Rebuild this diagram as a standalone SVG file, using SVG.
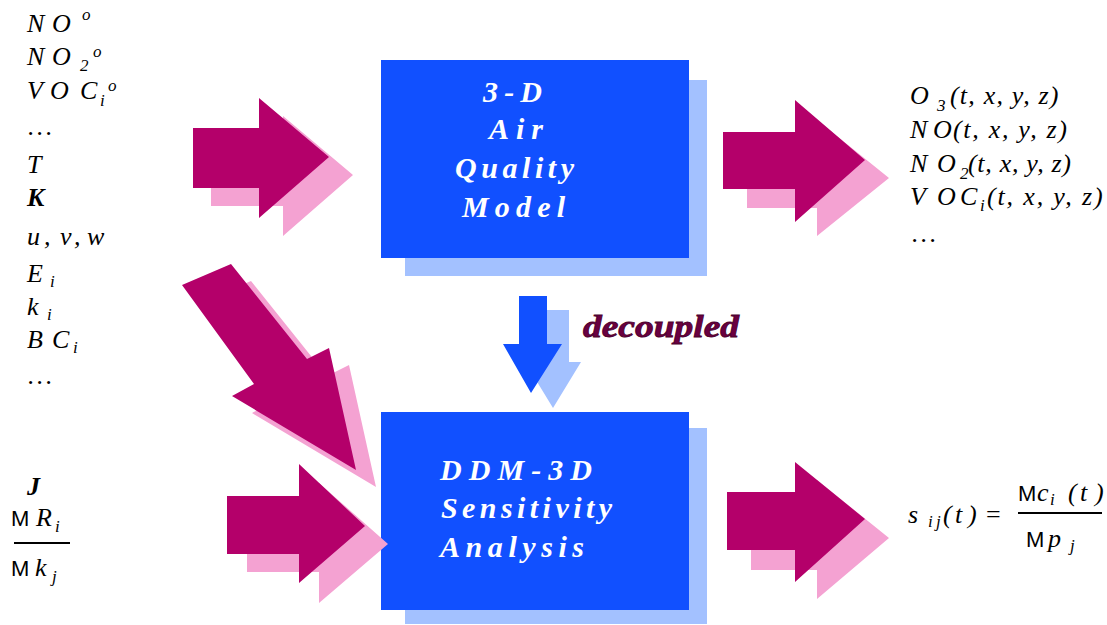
<svg xmlns="http://www.w3.org/2000/svg" width="1107" height="625" viewBox="0 0 1107 625">
<style>
.m{font-family:'Liberation Serif','Times New Roman',serif;font-style:italic;font-size:26px;fill:#000}
.b{font-weight:bold}
.s{font-size:17px}
.sans{font-family:'Liberation Sans',Arial,sans-serif;font-style:normal;font-size:22px}
.bt{font-family:'Liberation Serif','Times New Roman',serif;font-style:italic;font-weight:bold;font-size:30px;fill:#fff}
.main{fill:#1150FF}
.shadow{fill:#A3C1FF}
.arr{fill:#B4006A}
.arrs{fill:#F4A2D2}
.frac{stroke:#000;stroke-width:2}
</style>
<rect width="1107" height="625" fill="#fff"/>
<g id="node-aqm">
<rect class="shadow" x="405" y="80" width="302" height="196"/>
<rect class="main" x="381" y="60" width="308" height="198"/>
<text class="bt"><tspan x="483" y="102" textLength="59" lengthAdjust="spacing">3-D</tspan><tspan x="489" y="139" textLength="54" lengthAdjust="spacing">Air</tspan><tspan x="455" y="178" textLength="119" lengthAdjust="spacing">Quality</tspan><tspan x="462" y="217" textLength="103" lengthAdjust="spacing">Model</tspan></text>
</g>
<g id="node-ddm">
<rect class="shadow" x="405" y="428" width="302" height="196"/>
<rect class="main" x="381" y="412" width="308" height="198"/>
<text class="bt"><tspan x="440" y="480" textLength="152" lengthAdjust="spacing">DDM-3D</tspan><tspan x="441" y="518" textLength="171" lengthAdjust="spacing">Sensitivity</tspan><tspan x="440" y="557" textLength="144" lengthAdjust="spacing">Analysis</tspan></text>
</g>
<g id="node-inputs">
<text class="m"><tspan x="27 52" y="32">NO</tspan><tspan class="s" x="82" y="20">o</tspan></text>
<text class="m"><tspan x="27 52" y="65">NO</tspan><tspan class="s" x="80" y="71">2</tspan><tspan class="s" x="93" y="57">o</tspan></text>
<text class="m"><tspan x="27 50 80" y="99">VOC</tspan><tspan class="s" x="100" y="106">i</tspan><tspan class="s" x="108" y="91">o</tspan></text>
<text class="m" x="28 37 46" y="135">...</text>
<text class="m" x="27" y="173">T</text>
<text class="m b" x="27" y="206">K</text>
<text class="m" x="27 44 60 74 87" y="245">u,v,w</text>
<text class="m"><tspan x="27" y="282">E</tspan><tspan class="s" x="50" y="287">i</tspan></text>
<text class="m"><tspan x="27" y="315">k</tspan><tspan class="s" x="47" y="320">i</tspan></text>
<text class="m"><tspan x="27 52" y="348">BC</tspan><tspan class="s" x="73" y="353">i</tspan></text>
<text class="m" x="28 37 46" y="384">...</text>
</g>
<g id="node-params">
<text class="m b" x="27" y="495">J</text>
<text class="m"><tspan class="sans" x="11" y="526">M</tspan><tspan x="36" y="526">R</tspan><tspan class="s" x="55" y="532">i</tspan></text>
<line class="frac" x1="14" y1="543" x2="70" y2="543"/>
<text class="m"><tspan class="sans" x="11" y="576">M</tspan><tspan x="35" y="576">k</tspan><tspan class="s" x="52" y="582">j</tspan></text>
</g>
<g id="node-outputs">
<text class="m"><tspan x="910" y="104">O</tspan><tspan class="s" x="937" y="111">3</tspan><tspan x="950" y="104" letter-spacing="1.2">(t, x, y, z)</tspan></text>
<text class="m"><tspan x="910 933" y="138">NO</tspan><tspan x="953" y="138" letter-spacing="1.7">(t, x, y, z)</tspan></text>
<text class="m"><tspan x="910 937" y="172">NO</tspan><tspan class="s" x="960" y="179">2</tspan><tspan x="968" y="172" letter-spacing="0.7">(t, x, y, z)</tspan></text>
<text class="m"><tspan x="910 937 960" y="205">VOC</tspan><tspan class="s" x="980" y="211">i</tspan><tspan x="987" y="205" letter-spacing="1.85">(t, x, y, z)</tspan></text>
<text class="m" x="912 921 930" y="242">...</text>
</g>
<g id="node-sensitivity">
<text class="m"><tspan x="908" y="523">s</tspan><tspan class="s" x="928 936" y="527">ij</tspan><tspan x="943 955 968" y="523">(t)</tspan><tspan style="font-style:normal" x="986" y="523">=</tspan></text>
<text class="m"><tspan class="sans" x="1018" y="501">M</tspan><tspan x="1037" y="501">c</tspan><tspan class="s" x="1050" y="505">i</tspan><tspan x="1068 1080 1095" y="501">(t)</tspan></text>
<line class="frac" x1="1018" y1="513" x2="1102" y2="513"/>
<text class="m"><tspan class="sans" x="1026" y="547">M</tspan><tspan x="1048" y="547">p</tspan><tspan class="s" x="1070" y="551">j</tspan></text>
</g>
<g id="node-decoupled">
<text x="583" y="337" textLength="156" lengthAdjust="spacingAndGlyphs" style="font-family:'Liberation Serif',serif;font-style:italic;font-weight:bold;font-size:31px;fill:#6B0040;stroke:#4a002c;stroke-width:0.8">decoupled</text>
</g>
<g id="connectors">
<polygon class="arrs" points="211,146 283,146 283,116 353,175 283,236 283,206 211,206"/>
<polygon class="arr" points="193,128 259,128 259,98 329,157 259,218 259,188 193,188"/>
<polygon class="arrs" points="202,302 251,281 327,376 349,365 376,487 252,413 274,401"/>
<polygon class="arr" points="182,285 231,264 307,359 329,348 356,470 232,396 254,384"/>
<polygon class="arrs" points="247,514 319,514 319,483 388,544 319,603 319,572 247,572"/>
<polygon class="arr" points="227,496 299,496 299,464 365,526 299,583 299,554 227,554"/>
<polygon class="arrs" points="747,150 817,150 817,120 889,178 817,236 817,208 747,208"/>
<polygon class="arr" points="723,132 795,132 795,100 865,160 795,222 795,189 723,189"/>
<polygon class="arrs" points="751,510 817,510 817,480 889,538 817,599 817,570 751,570"/>
<polygon class="arr" points="727,492 795,492 795,462 865,519 795,582 795,550 727,550"/>
<polygon class="shadow" points="541,310 569,310 569,362 581,362 553,408 525,362 541,362"/>
<polygon class="main" points="519,296 547,296 547,344 562,344 531,393 503,344 519,344"/>
</g>
</svg>
